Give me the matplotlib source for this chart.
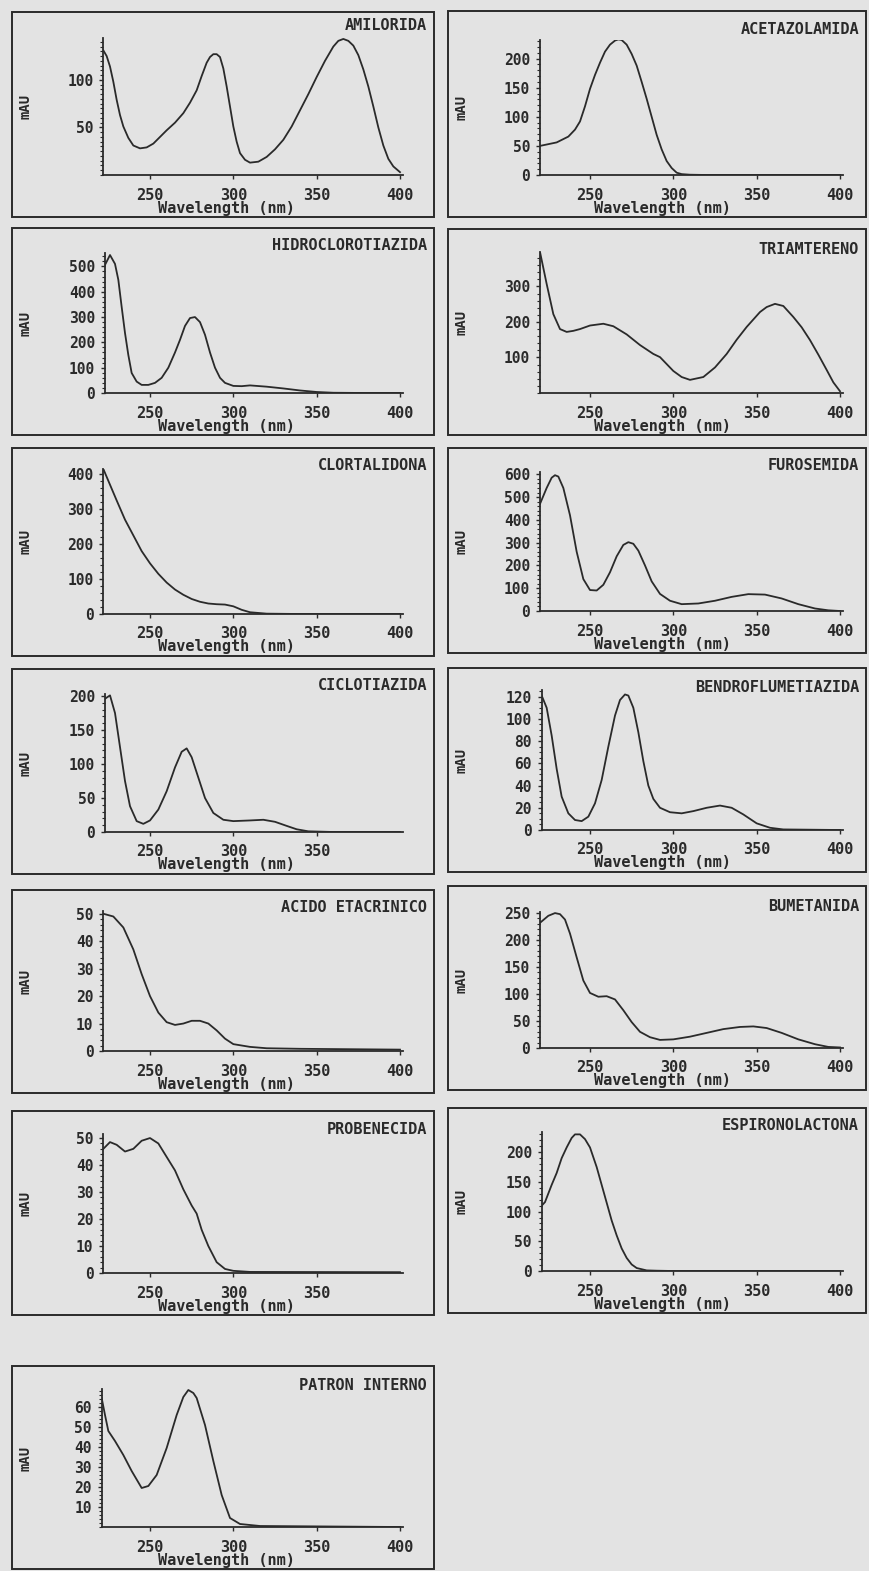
"""
Espectros UV de los diuréticos y del patrón interno (mAU frente a longitud de onda)
"""

import matplotlib.pyplot as plt
from matplotlib.patches import Rectangle
from matplotlib.ticker import MultipleLocator

W, H = 869, 1571
FONDO = '#e3e3e3'
TINTA = '#2a2a2a'

plt.rcParams['font.family'] = ['DejaVu Sans Mono']
plt.rcParams['font.weight'] = 'bold'

# ============================================================================
# ESPECTROS (nm, mAU)
# ============================================================================

amilorida_nm = [222, 224, 226, 228, 230, 232, 234, 237, 240, 244, 248, 252, 256, 260, 265, 270,
                274, 278, 281, 284, 286, 288, 290, 292, 294, 296, 298, 300, 302, 304, 307, 310,
                315, 320, 325, 330, 335, 340, 345, 350, 355, 360, 363, 366, 369, 372, 375, 378,
                381, 384, 387, 390, 393, 396, 400]
amilorida_mau = [131, 125, 114, 98, 79, 63, 51, 39, 31, 28, 29, 33, 40, 47, 55, 65,
                 76, 89, 104, 118, 124, 127, 127, 124, 112, 93, 72, 51, 35, 23, 16, 13,
                 14, 19, 27, 37, 51, 68, 85, 103, 120, 135, 141, 143, 141, 136, 126, 111,
                 93, 72, 50, 31, 17, 9, 3]

acetazolamida_nm = [220, 230, 237, 241, 244, 247, 250, 253, 256, 259, 262, 265, 267, 269, 272,
                    275, 278, 281, 284, 287, 290, 293, 296, 299, 302, 305, 310, 320, 350, 400]
acetazolamida_mau = [50, 56, 66, 78, 92, 118, 148, 172, 193, 212, 224, 231, 233, 232, 224,
                     208, 188, 160, 131, 100, 69, 44, 24, 12, 4, 1.5, 0.5, 0, 0, 0]

hidroclorotiazida_nm = [223, 226, 229, 231, 233, 235, 237, 239, 242, 245, 249, 253, 257, 261, 265,
                        268, 271, 274, 277, 280, 283, 286, 289, 292, 295, 300, 305, 310, 320, 330,
                        340, 350, 360, 380, 400]
hidroclorotiazida_mau = [506, 545, 510, 447, 340, 237, 150, 79, 45, 32, 32, 40, 60, 100, 160,
                         210, 265, 296, 300, 280, 230, 160, 100, 60, 40, 28, 27, 30, 25, 18,
                         10, 4, 1, 0, 0]

triamtereno_nm = [220, 224, 228, 232, 236, 240, 244, 250, 258, 264, 272, 280, 288, 292, 300, 305,
                  310, 318, 325, 332, 338, 344, 352, 356, 361, 366, 372, 377, 382, 387, 392, 396, 400]
triamtereno_mau = [397, 307, 222, 180, 172, 175, 180, 190, 195, 188, 165, 135, 110, 101, 62, 45,
                   37, 45, 72, 110, 150, 186, 228, 242, 251, 245, 214, 185, 149, 108, 65, 30, 5]

clortalidona_nm = [222, 226, 230, 235, 240, 245, 250, 255, 260, 265, 270, 275, 280, 285, 290,
                   295, 300, 305, 310, 320, 340, 400]
clortalidona_mau = [415, 370, 325, 270, 225, 180, 145, 115, 90, 70, 55, 43, 35, 30, 28,
                    27, 22, 12, 5, 1, 0, 0]

furosemida_nm = [220, 224, 227, 229, 231, 234, 238, 242, 246, 250, 254, 258, 262, 266, 270, 273,
                 276, 279, 283, 287, 292, 298, 305, 315, 325, 335, 345, 355, 365, 375, 385, 393, 400]
furosemida_mau = [470, 540, 585, 596, 590, 540, 420, 260, 140, 92, 90, 115, 170, 240, 290, 302,
                  295, 265, 200, 130, 75, 45, 30, 33, 45, 62, 74, 72, 55, 30, 11, 3, 0]

ciclotiazida_nm = [223, 226, 229, 232, 235, 238, 242, 246, 250, 255, 260, 265, 269, 272, 275, 279,
                   283, 288, 294, 300, 310, 318, 325, 332, 338, 345, 360, 400]
ciclotiazida_mau = [196, 201, 175, 125, 75, 38, 16, 12, 17, 33, 60, 95, 118, 123, 110, 80,
                    50, 28, 18, 16, 17, 18, 15, 9, 4, 1, 0, 0]

bendroflumetiazida_nm = [221, 224, 227, 230, 233, 237, 241, 245, 249, 253, 257, 261, 265, 268, 271,
                         273, 276, 279, 282, 285, 288, 292, 298, 305, 312, 320, 328, 335, 342, 350,
                         358, 366, 400]
bendroflumetiazida_mau = [121, 110, 85, 55, 30, 15, 9, 8, 12, 24, 45, 75, 103, 117, 122,
                          121, 110, 88, 62, 40, 28, 20, 16, 15, 17, 20, 22, 20, 14, 6,
                          2, 0.5, 0]

acido_etacrinico_nm = [222, 228, 234, 240, 245, 250, 255, 260, 265, 270, 275, 280, 285, 290, 295,
                       300, 310, 320, 340, 400]
acido_etacrinico_mau = [50, 49, 45, 37, 28, 20, 14, 10.5, 9.5, 10, 11, 11, 10, 7.5, 4.5,
                        2.5, 1.5, 1, 0.8, 0.5]

bumetanida_nm = [220, 225, 229, 232, 235, 238, 242, 246, 250, 255, 260, 265, 270, 275, 280, 286,
                 292, 300, 310, 320, 330, 340, 348, 356, 365, 375, 385, 393, 400]
bumetanida_mau = [232, 245, 250, 248, 238, 212, 168, 125, 102, 95, 96, 90, 70, 48, 30, 20,
                  15, 16, 21, 28, 35, 39, 40, 37, 28, 16, 7, 2, 1]

probenecida_nm = [222, 226, 230, 235, 240, 245, 250, 255, 260, 265, 270, 275, 278, 281, 285,
                  290, 295, 300, 310, 400]
probenecida_mau = [46, 48.5, 47.5, 45, 46, 49, 50, 48, 43, 38, 31, 25, 22, 16, 10,
                   4, 1.5, 0.8, 0.4, 0.3]

espironolactona_nm = [221, 223, 227, 230, 233, 236, 239, 241, 244, 247, 250, 254, 257, 260, 263,
                      266, 269, 272, 275, 278, 284, 290, 300, 400]
espironolactona_mau = [110, 116, 145, 165, 190, 208, 224, 230, 230, 222, 208, 175, 145, 115, 85,
                       60, 38, 22, 11, 5, 1, 0.5, 0, 0]

patron_nm = [221, 223, 225, 229, 234, 239, 245, 249, 254, 260, 266, 270, 273, 276, 278, 283,
             288, 293, 298, 304, 316, 400]
patron_mau = [64.5, 56, 48, 43, 36, 28, 19.5, 20.5, 26, 39.5, 56, 65, 68.5, 67, 64.5, 51,
              33, 16, 4.5, 1.5, 0.5, 0]

# ============================================================================
# DISPOSICIÓN (píxeles de la página)
# ============================================================================

PX_NM = 5 / 3            # píxeles por nm en el eje x
COLUMNAS = {
    0: dict(izq=12, der=434, x250=150),
    1: dict(izq=448, der=866, x250=590),
}

# nombre, nm, mAU, columna, (caja sup, caja inf), ymax, alto eje (px), yticks, paso menor, xticks, y título
paneles = [
    ('AMILORIDA', amilorida_nm, amilorida_mau, 0, (12, 217), 144, 137, [50, 100], 5, [250, 300, 350, 400], 13),
    ('ACETAZOLAMIDA', acetazolamida_nm, acetazolamida_mau, 1, (11, 217), 232, 135, [0, 50, 100, 150, 200], 10, [250, 300, 350, 400], 19),
    ('HIDROCLOROTIAZIDA', hidroclorotiazida_nm, hidroclorotiazida_mau, 0, (228, 435), 553, 140, [0, 100, 200, 300, 400, 500], 20, [250, 300, 350, 400], 17),
    ('TRIAMTERENO', triamtereno_nm, triamtereno_mau, 1, (229, 435), 397, 141, [100, 200, 300], 20, [250, 300, 350, 400], 21),
    ('CLORTALIDONA', clortalidona_nm, clortalidona_mau, 0, (448, 656), 415, 145, [0, 100, 200, 300, 400], 20, [250, 300, 350, 400], 17),
    ('FUROSEMIDA', furosemida_nm, furosemida_mau, 1, (448, 653), 610, 139, [0, 100, 200, 300, 400, 500, 600], 20, [250, 300, 350, 400], 17),
    ('CICLOTIAZIDA', ciclotiazida_nm, ciclotiazida_mau, 0, (669, 874), 203, 138, [0, 50, 100, 150, 200], 10, [250, 300, 350], 17),
    ('BENDROFLUMETIAZIDA', bendroflumetiazida_nm, bendroflumetiazida_mau, 1, (668, 872), 126, 140, [0, 20, 40, 60, 80, 100, 120], 5, [250, 300, 350, 400], 19),
    ('ACIDO ETACRINICO', acido_etacrinico_nm, acido_etacrinico_mau, 0, (890, 1093), 51, 140, [0, 10, 20, 30, 40, 50], 2, [250, 300, 350, 400], 18),
    ('BUMETANIDA', bumetanida_nm, bumetanida_mau, 1, (886, 1090), 252, 136, [0, 50, 100, 150, 200, 250], 10, [250, 300, 350, 400], 21),
    ('PROBENECIDA', probenecida_nm, probenecida_mau, 0, (1111, 1315), 51.5, 139, [0, 10, 20, 30, 40, 50], 2, [250, 300, 350], 18),
    ('ESPIRONOLACTONA', espironolactona_nm, espironolactona_mau, 1, (1108, 1313), 234, 139, [0, 50, 100, 150, 200], 10, [250, 300, 350, 400], 17),
    ('PATRON INTERNO', patron_nm, patron_mau, 0, (1366, 1569), 69, 138, [10, 20, 30, 40, 50, 60], 2, [250, 300, 350, 400], 19),
]


def fx(px):
    return px / W


def fy(py):
    return 1 - py / H


fig = plt.figure(figsize=(W / 100, H / 100), dpi=100, facecolor=FONDO)

for (nombre, nm, mau, col, caja, ymax, alto, yticks, menor, xticks, y_tit) in paneles:
    izq, der, x250 = COLUMNAS[col]['izq'], COLUMNAS[col]['der'], COLUMNAS[col]['x250']
    sup, inf = caja

    # Marco del panel
    fig.add_artist(Rectangle((fx(izq), fy(inf)), fx(der - izq), (inf - sup) / H,
                             transform=fig.transFigure, fill=False, lw=1.4, ec=TINTA))

    # Ejes del espectro
    x0 = nm[0]
    y_eje = inf - 42
    x_izq = x250 - (250 - x0) * PX_NM
    x_der = x250 + (402 - 250) * PX_NM
    ax = fig.add_axes([fx(x_izq), fy(y_eje), fx(x_der - x_izq), alto / H])
    ax.set_facecolor('none')
    ax.plot(nm, mau, color=TINTA, lw=1.3)
    ax.set_xlim(x0, 402)
    ax.set_ylim(0, ymax)

    for lado in ['top', 'right']:
        ax.spines[lado].set_visible(False)
    for lado in ['left', 'bottom']:
        ax.spines[lado].set_color(TINTA)
        ax.spines[lado].set_linewidth(1.3)

    ax.set_xticks(xticks)
    ax.set_yticks(yticks)
    ax.yaxis.set_minor_locator(MultipleLocator(menor))
    ax.tick_params(axis='y', which='major', length=3, width=1, pad=4, labelsize=10.5,
                   colors=TINTA, direction='out')
    ax.tick_params(axis='y', which='minor', length=2, width=0.8, colors=TINTA)
    ax.tick_params(axis='x', which='major', length=3, width=1, pad=6, labelsize=11,
                   colors=TINTA, direction='out')

    # Textos
    fig.text(fx(der - 7), fy(sup + y_tit), nombre, ha='right', va='center',
             fontsize=11, color=TINTA)
    fig.text(fx(izq + 14), fy(y_eje - alto / 2), 'mAU', rotation=90, ha='center',
             va='center', fontsize=10, color=TINTA)
    fig.text(fx(izq + 214), fy(inf - 9), 'Wavelength (nm)', ha='center', va='center',
             fontsize=11, color=TINTA)

plt.savefig('out.png', dpi=100, facecolor=FONDO)
